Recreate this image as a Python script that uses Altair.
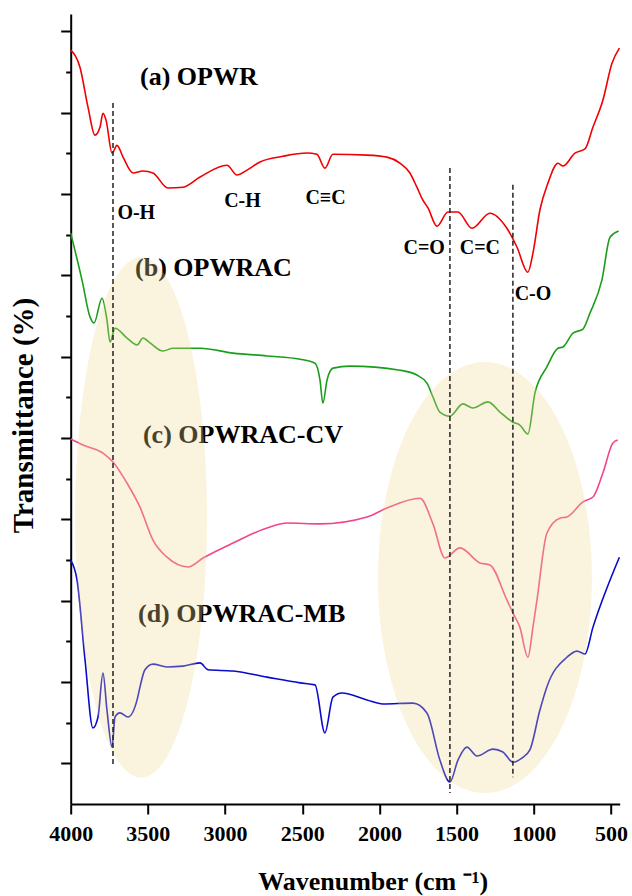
import altair as alt
import numpy as np
import pandas as pd

# ---- spectra (wavenumber cm-1, stacked transmittance in arbitrary % units) ----
red_wn = [4000,3940,3888,3843,3810,3791,3771,3732,3700,3661,3596,3532,3467,3370,3272,3162,2987,2923,2858,2774,2625,2469,2405,2353,2301,2081,1951,1867,1802,1757,1718,1685,1627,1556,1491,1400,1284,1174,1109,1038,1005,960,908,843,811,733,668,616,552,493,445]
red_t = [185.4,181.2,171.4,164.5,166.5,169.9,168.2,160.1,162.0,159.1,155.2,155.7,155.2,151.5,151.7,154.2,157.1,154.7,155.9,157.9,159.3,160.1,159.8,156.4,159.8,159.6,159.1,157.6,155.2,151.7,148.5,146.6,142.1,145.6,145.6,141.6,145.3,141.6,137.0,130.8,135.5,146.1,152.7,157.6,156.9,160.1,161.1,166.5,173.1,182.2,185.9]

green_wn = [4000,3927,3875,3849,3797,3765,3745,3713,3635,3570,3532,3486,3402,3337,3162,2948,2728,2514,2417,2385,2366,2339,2300,2190,1867,1757,1692,1653,1608,1543,1459,1394,1297,1219,1135,1090,1038,992,915,843,811,746,681,636,558,506,450]
green_t = [140.4,128.9,119.8,118.3,124.4,119.0,113.6,117.0,114.6,112.9,114.6,113.4,111.4,112.1,112.1,110.9,110.2,109.4,108.4,104.3,98.6,104.3,107.2,107.7,106.7,105.5,103.5,100.1,96.4,95.4,98.4,97.4,98.9,96.4,93.9,93.2,91.0,101.1,107.5,112.1,112.4,115.8,116.8,120.7,128.9,139.4,140.9]

pink_wn = [4000,3920,3791,3726,3635,3551,3467,3376,3240,3143,2948,2728,2598,2384,2080,1951,1737,1653,1575,1478,1349,1284,1174,1135,1090,1038,1005,979,915,831,785,681,616,552,487,455]
pink_t = [89.8,88.3,86.3,84.1,78.9,73.0,64.9,60.7,58.3,60.5,64.2,67.9,69.1,68.9,70.6,72.8,75.2,68.9,60.5,63.0,59.3,58.8,50.2,47.0,43.5,36.1,43.5,50.2,66.6,70.3,70.6,74.3,75.5,81.4,88.8,89.5]

blue_wn = [4000,3959,3907,3856,3823,3791,3765,3732,3713,3681,3629,3570,3551,3519,3467,3376,3272,3162,3110,2948,2728,2514,2417,2353,2301,2243,2081,1977,1783,1692,1608,1543,1491,1433,1368,1264,1200,1135,1077,1025,960,915,785,720,668,616,445]
blue_t = [60.0,55.1,35.4,18.7,21.4,32.2,23.1,14.0,21.4,22.4,21.4,25.6,28.8,33.0,34.4,33.7,33.9,34.7,33.0,32.7,31.2,29.8,29.3,17.5,26.3,27.3,25.6,24.6,24.8,22.4,10.8,5.4,10.8,14.0,11.8,13.5,12.8,10.3,11.3,13.3,23.1,28.8,36.1,37.6,36.9,43.5,60.7]

series_names = ["OPWR", "OPWRAC", "OPWRAC-CV", "OPWRAC-MB"]
series_colors = ["#F00000", "#1A9E1A", "#F2448C", "#0A0ACD"]

# ---- annotations ----
lab_txt = ["(a) OPWR", "(b) OPWRAC", "(c) OPWRAC-CV", "(d) OPWRAC-MB"]
lab_wn = [3551, 3583, 3532, 3564]
lab_t = [178.8, 131.8, 90.7, 46.7]

ann_txt = ["O-H", "C-H", "C\u2261C", "C=O", "C=C", "C-O"]
ann_wn = [3575, 2887, 2349, 1710, 1349, 1005]
ann_t = [145.3, 148.3, 149.0, 136.7, 136.7, 125.4]

dash_wn = [3726, 1543, 1135]
dash_top = [172.4, 156.4, 152.3]
dash_bot = [9.6, 2.7, 6.6]

# highlight ellipses (centre, radii in data units)
ell_cx = [3544, 1316]
ell_cy = [70.5, 55.7]
ell_rx = [427, 693]
ell_ry = [64, 53]

x_ticks = list(range(4000, 499, -250))
y_ticks = list(range(10, 191, 10))

# ---- tables ----
frames = []
for name, wn, t in zip(series_names, [red_wn, green_wn, pink_wn, blue_wn],
                       [red_t, green_t, pink_t, blue_t]):
    frames.append(pd.DataFrame({"wn": wn, "t": t, "sample": name}))
spec = pd.concat(frames, ignore_index=True)

theta = np.linspace(0, np.pi, 90)
ell_rows = []
for i, (cx, cy, rx, ry) in enumerate(zip(ell_cx, ell_cy, ell_rx, ell_ry)):
    ell_rows.append(pd.DataFrame({
        "wn": cx + rx * np.cos(theta),
        "top": cy + ry * np.sin(theta),
        "bot": cy - ry * np.sin(theta),
        "id": i,
    }))
ell = pd.concat(ell_rows, ignore_index=True)

labels = pd.DataFrame({"txt": lab_txt, "wn": lab_wn, "t": lab_t})
anns = pd.DataFrame({"txt": ann_txt, "wn": ann_wn, "t": ann_t})
dashes = pd.DataFrame({"wn": dash_wn, "top": dash_top, "bot": dash_bot})

FONT = "Liberation Serif"

xscale = alt.Scale(domain=[4000, 443], nice=False, zero=False)
yscale = alt.Scale(domain=[0, 194.3], nice=False, zero=False)

xaxis = alt.Axis(
    values=x_ticks,
    labelExpr="datum.value % 500 == 0 ? format(datum.value, 'd') : ''",
    tickSize={"condition": {"test": "datum.value % 500 == 0", "value": 10}, "value": 5},
    labelFont=FONT, labelFontWeight="bold", labelFontSize=22, labelColor="black",
    labelPadding=9, labelFlush=False, labelOverlap=False, labelBound=False,
    tickColor="black", tickWidth=2, domainColor="black", domainWidth=2,
    grid=False,
    title="Wavenumber (cm \u207b\u00b9)",
    titleFont=FONT, titleFontWeight="bold", titleFontSize=26, titleColor="black",
    titleX=302, titleY=85, titleAlign="center", titleBaseline="alphabetic",
)
yaxis = alt.Axis(
    values=y_ticks, labels=False,
    tickSize={"condition": {"test": "datum.value % 20 == 10", "value": 10}, "value": 5},
    tickColor="black", tickWidth=2, domainColor="black", domainWidth=2,
    grid=False,
    title="Transmittance (%)",
    titleFont=FONT, titleFontWeight="bold", titleFontSize=29, titleColor="black",
    titleX=-38, titleY=401, titleAngle=270, titleAlign="center",
    titleBaseline="alphabetic",
)

lines = alt.Chart(spec).mark_line(strokeWidth=1.6, interpolate="monotone").encode(
    x=alt.X("wn:Q", scale=xscale, axis=xaxis),
    y=alt.Y("t:Q", scale=yscale, axis=yaxis),
    color=alt.Color("sample:N", scale=alt.Scale(domain=series_names, range=series_colors), legend=None),
    order=alt.Order("wn:Q", sort="descending"),
)

label_marks = alt.Chart(labels).mark_text(
    font=FONT, fontWeight="bold", fontSize=26, align="left", baseline="middle", color="black"
).encode(x="wn:Q", y="t:Q", text="txt:N")

ann_marks = alt.Chart(anns).mark_text(
    font=FONT, fontWeight="bold", fontSize=20, align="center", baseline="middle", color="black"
).encode(x="wn:Q", y="t:Q", text="txt:N")

ellipses = alt.Chart(ell).mark_area(color="#F0D890", opacity=0.3).encode(
    x="wn:Q", y="top:Q", y2="bot:Q", detail="id:N"
)

dash_marks = alt.Chart(dashes).mark_rule(
    color="#222222", strokeWidth=1.5, strokeDash=[5, 3]
).encode(x="wn:Q", y="top:Q", y2="bot:Q")

chart = alt.layer(lines, label_marks, ann_marks, ellipses, dash_marks).properties(
    width=549, height=790,
    autosize=alt.AutoSizeParams(type="none"),
    padding={"left": 70.7, "top": 14, "right": 12.3, "bottom": 92},
    background="white",
).configure_view(stroke=None)

chart.save("out.html", embed_options={"renderer": "svg", "actions": False})
